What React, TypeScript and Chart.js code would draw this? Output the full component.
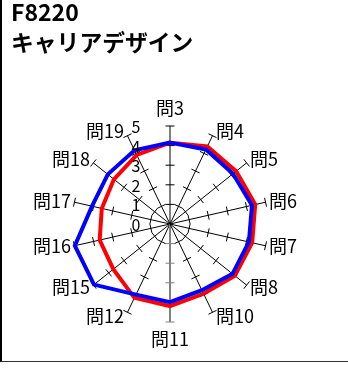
import React, { useEffect, useRef } from "react";
import { Chart, registerables } from "chart.js";

Chart.register(...registerables);

const titleCode = "F8220";
const titleName = "キャリアデザイン";

const categories = ["問3", "問4", "問5", "問6", "問7", "問8", "問10", "問11", "問12", "問15", "問16", "問17", "問18", "問19"];
const redValues = [4.15, 4.39, 4.32, 4.46, 4.3, 4.23, 3.95, 4.19, 4.18, 3.7, 3.68, 3.57, 3.66, 3.91];
const blueValues = [4.15, 4.22, 4.11, 4.29, 4.13, 4.08, 3.75, 3.99, 4.0, 4.96, 4.98, 4.08, 4.06, 4.17];
const tickValues = [0, 1, 2, 3, 4, 5];
const scaleMin = 0;
const scaleMax = 5;

const FONT = '"Noto Sans CJK JP", "Noto Sans", sans-serif';
const GRAY_AXIS_INDEX = 7;

const radarDecor = {
  id: "radarDecor",
  beforeDatasetsDraw(chart: any) {
    const s = chart.scales.r;
    const ctx = chart.ctx;
    const n = chart.data.labels.length;
    ctx.save();
    ctx.lineWidth = 1;
    for (let i = 0; i < n; i++) {
      ctx.strokeStyle = i === GRAY_AXIS_INDEX ? "#808080" : "#000000";
      for (const v of tickValues) {
        if (v <= scaleMin) continue;
        const p = s.getPointPositionForValue(i, v);
        const px = -Math.sin(p.angle);
        const py = Math.cos(p.angle);
        ctx.beginPath();
        ctx.moveTo(p.x - px * 4.5, p.y - py * 4.5);
        ctx.lineTo(p.x + px * 4.5, p.y + py * 4.5);
        ctx.stroke();
      }
    }
    ctx.restore();
  },
  afterDatasetsDraw(chart: any) {
    const s = chart.scales.r;
    const ctx = chart.ctx;
    const labels = chart.data.labels as string[];
    ctx.save();
    ctx.fillStyle = "#000000";
    ctx.font = `16px ${FONT}`;
    ctx.textAlign = "center";
    ctx.textBaseline = "middle";
    for (const v of tickValues) {
      const d = s.getDistanceFromCenterForValue(v);
      ctx.fillText(String(v), s.xCenter - 34, s.yCenter - d + 1);
    }
    ctx.font = `18px ${FONT}`;
    labels.forEach((lab, i) => {
      const end = s.getPointPosition(i, s.drawingArea);
      const th = s.getIndexAngle(i);
      const sn = Math.sin(th);
      const cs = Math.cos(th);
      ctx.textBaseline = "middle";
      if (Math.abs(sn) < 0.05) {
        ctx.textAlign = "center";
        ctx.fillText(lab, end.x, cs > 0 ? end.y - 18 : end.y + 17.5);
      } else {
        ctx.textAlign = sn > 0 ? "left" : "right";
        const x = sn > 0 ? end.x + 3.5 : end.x - 3.5;
        ctx.fillText(lab, x, end.y - 4.5 * cs - 0.5);
      }
    });
    ctx.restore();
  },
};

function RadarChart() {
  const ref = useRef<HTMLCanvasElement | null>(null);
  useEffect(() => {
    if (!ref.current) return;
    const chart = new Chart(ref.current, {
      type: "radar",
      data: {
        labels: categories,
        datasets: [
          {
            label: "blue",
            data: blueValues,
            borderColor: "#0000FF",
            backgroundColor: "rgba(0,0,0,0)",
            borderWidth: 4,
            borderJoinStyle: "miter",
            pointRadius: 0,
            fill: false,
          },
          {
            label: "red",
            data: redValues,
            borderColor: "#FF0000",
            backgroundColor: "rgba(0,0,0,0)",
            borderWidth: 4,
            borderJoinStyle: "miter",
            pointRadius: 0,
            fill: false,
          },
        ],
      },
      options: {
        responsive: false,
        animation: false,
        layout: { padding: { left: 72, right: 80, top: 126, bottom: 47 } },
        plugins: { legend: { display: false }, tooltip: { enabled: false } },
        scales: {
          r: {
            min: scaleMin,
            max: scaleMax,
            ticks: { display: false, stepSize: 1 },
            grid: { display: false },
            angleLines: {
              display: true,
              lineWidth: (c: any) => (c.index === GRAY_AXIS_INDEX ? 2 : 1),
              color: (c: any) => (c.index === GRAY_AXIS_INDEX ? "#808080" : "#000000"),
            },
            pointLabels: { display: false },
          },
        },
      },
      plugins: [radarDecor],
    });
    return () => chart.destroy();
  }, []);
  return (
    <canvas
      ref={ref}
      width={348}
      height={369}
      style={{ position: "absolute", left: 0, top: 0, width: 348, height: 369 }}
    />
  );
}

export default function App() {
  return (
    <div style={{ position: "absolute", left: 0, top: 0, width: 348, height: 369, background: "#fff", overflow: "hidden" }}>
      <div
        style={{
          position: "absolute",
          left: 0,
          top: 0,
          width: 348,
          height: 362,
          borderLeft: "2px solid #000",
          borderBottom: "1px solid #333",
          boxSizing: "border-box",
        }}
      />
      <RadarChart />
      <div
        style={{
          position: "absolute",
          left: 11,
          top: 0,
          font: `bold 23px/23px ${FONT}`,
          color: "#000",
          whiteSpace: "nowrap",
        }}
      >
        {titleCode}
      </div>
      <div
        style={{
          position: "absolute",
          left: 11,
          top: 31,
          font: `bold 22.8px/22.8px ${FONT}`,
          color: "#000",
          whiteSpace: "nowrap",
        }}
      >
        {titleName}
      </div>
    </div>
  );
}
